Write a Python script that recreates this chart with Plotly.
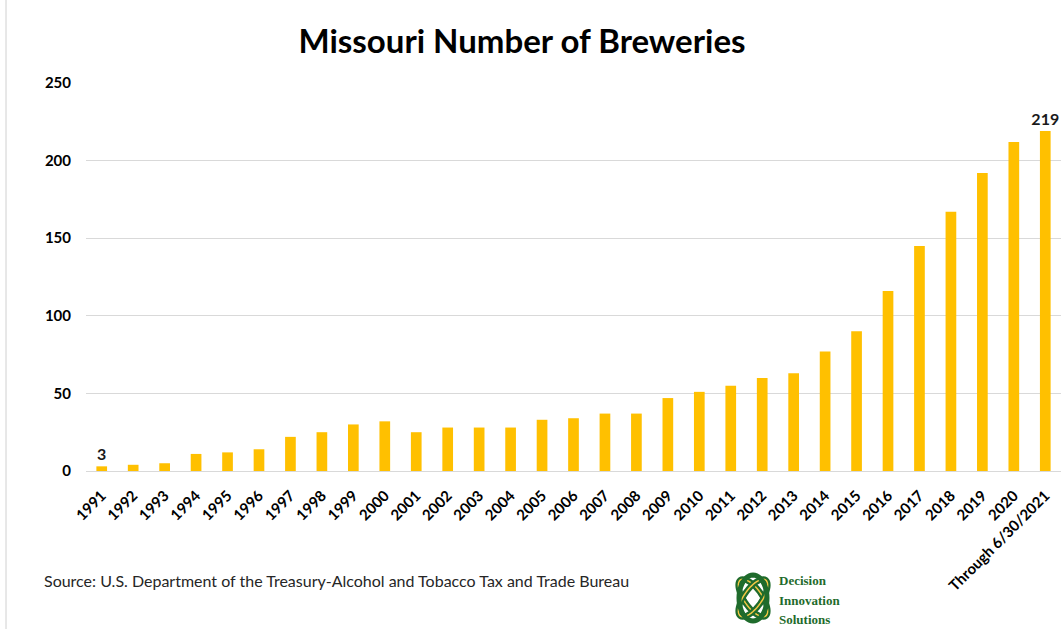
import math
import plotly.graph_objects as go

# Breweries operating in Missouri by year
years = ["1991", "1992", "1993", "1994", "1995", "1996", "1997", "1998", "1999", "2000",
         "2001", "2002", "2003", "2004", "2005", "2006", "2007", "2008", "2009", "2010",
         "2011", "2012", "2013", "2014", "2015", "2016", "2017", "2018", "2019", "2020",
         "Through 6/30/2021"]
breweries = [3, 4, 5, 11, 12, 14, 22, 25, 30, 32,
             25, 28, 28, 28, 33, 34, 37, 37, 47, 51,
             55, 60, 63, 77, 90, 116, 145, 167, 192, 212,
             219]
labelled = {"1991", "Through 6/30/2021"}
bar_text = [str(v) if y in labelled else "" for y, v in zip(years, breweries)]

y_ticks = [0, 50, 100, 150, 200, 250]

W, H = 1064, 629
ML, MR, MT, MB = 86, 3, 83, 158
PW, PH = W - ML - MR, H - MT - MB


def px(x):
    return (x - ML) / PW


def py(y):
    return (H - MB - y) / PH


def loop_path(cx, cy, a, b, angle_deg, n=48):
    """Closed path of a rotated ellipse, in paper coordinates."""
    t = math.radians(angle_deg)
    pts = []
    for i in range(n):
        u = 2 * math.pi * i / n
        ex, ey = a * math.cos(u), b * math.sin(u)
        x = cx + ex * math.cos(t) - ey * math.sin(t)
        y = cy + ex * math.sin(t) + ey * math.cos(t)
        pts.append(f"{px(x):.5f},{py(y):.5f}")
    return "M" + " L".join(pts) + " Z"


FONT = "Lato"
GREEN = "#1f6b2c"
GOLD = "#f2c744"

fig = go.Figure(go.Bar(
    x=years, y=breweries,
    marker=dict(color="#FFC000", line=dict(width=0)),
    text=bar_text, textposition="outside", cliponaxis=False, constraintext="none",
    textfont=dict(family=FONT, size=16, color="#1a1a1a", weight="bold"),
))

shapes = [
    # chart frame edge on the left
    dict(type="line", xref="paper", yref="paper", x0=px(6), x1=px(6), y0=py(0), y1=py(629),
         line=dict(color="#d0d0d0", width=1)),
]

# interlaced knot emblem beside the company name
for ang in (55, -55):
    path = loop_path(753, 598, 22, 9, ang)
    shapes.append(dict(type="path", xref="paper", yref="paper", path=path,
                       line=dict(color=GREEN, width=6)))
    shapes.append(dict(type="path", xref="paper", yref="paper", path=path,
                       line=dict(color=GOLD, width=1.5)))
# outer frame of the knot
frame = loop_path(753, 598, 14, 23, 0)
shapes.append(dict(type="path", xref="paper", yref="paper", path=frame,
                   line=dict(color=GREEN, width=5)))

annotations = [
    dict(text="Source: U.S. Department of the Treasury-Alcohol and Tobacco Tax and Trade Bureau",
         xref="paper", yref="paper", x=px(42), y=py(580), xanchor="left", yanchor="middle",
         showarrow=False, font=dict(family=FONT, size=16, color="#262626")),
]
for txt, yy in [("Decision", 580), ("Innovation", 600), ("Solutions", 619)]:
    annotations.append(dict(text=txt, xref="paper", yref="paper", x=px(777), y=py(yy),
                            xanchor="left", yanchor="middle", showarrow=False,
                            font=dict(family="Liberation Serif", size=13, color=GREEN,
                                      weight="bold")))

fig.update_layout(
    width=W, height=H,
    margin=dict(l=ML, r=MR, t=MT, b=MB),
    paper_bgcolor="white", plot_bgcolor="white",
    title=dict(text="Missouri Number of Breweries", x=522 / W, xanchor="center",
               y=1 - 41 / H, yanchor="middle",
               font=dict(family=FONT, size=33, color="#000000", weight="bold")),
    bargap=0.66,
    showlegend=False,
    shapes=shapes,
    annotations=annotations,
    xaxis=dict(tickangle=-45, tickfont=dict(family=FONT, size=15, color="#000000", weight="bold"),
               showgrid=False, showline=False, ticks="", zeroline=False,
               ticklabelstandoff=12),
    yaxis=dict(range=[0, 250], tickvals=y_ticks, showgrid=True, gridcolor="#d9d9d9", gridwidth=1,
               zeroline=True, zerolinecolor="#d9d9d9", zerolinewidth=1, showline=False,
               ticks="", ticklabelstandoff=14,
               tickfont=dict(family=FONT, size=15, color="#000000", weight="bold")),
)

fig.write_html("out.html")
